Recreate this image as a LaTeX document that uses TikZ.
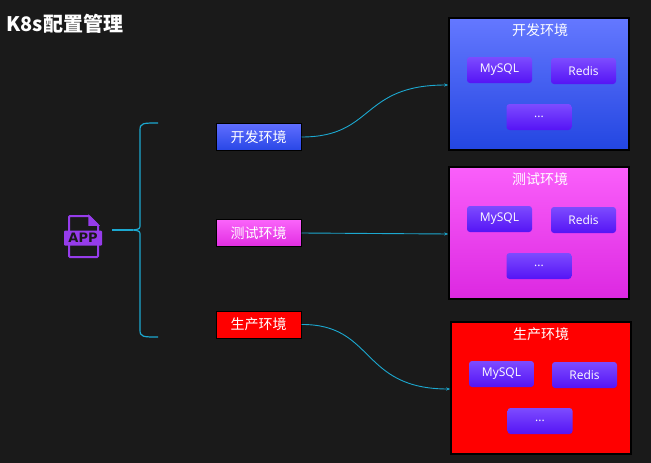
\documentclass[tikz,border=0pt]{standalone}
\usepackage{fontspec}
\setmainfont{Noto Sans CJK SC}
\newfontfamily\latinf{Open Sans}
\usetikzlibrary{arrows.meta}
\definecolor{bg}{HTML}{1A1A1A}
\definecolor{cy}{HTML}{1CA8D0}
\definecolor{pur}{RGB}{150,60,235}
\begin{document}
\begin{tikzpicture}[x=1pt,y=-1pt,
 env/.style={draw=black,line width=1pt,minimum width=85pt,minimum height=27pt,text=white,font=\fontsize{14}{14}\selectfont,inner sep=0pt},
 big/.style={draw=black,line width=1.5pt,minimum width=180pt,minimum height=132pt},
 sm/.style={rounded corners=3pt,top color={rgb,255:red,125;green,75;blue,255},bottom color={rgb,255:red,85;green,20;blue,245},minimum width=65pt,minimum height=26pt,text=white,font=\latinf\fontsize{12}{12}\selectfont,inner sep=0pt},
 btitle/.style={text=white,font=\fontsize{14}{14}\selectfont},
 conn/.style={cy,line width=0.9pt,-{Stealth[length=4pt]}}]
\fill[bg] (0,0) rectangle (651,463);
\useasboundingbox (0,0) rectangle (651,463);
\node[anchor=west,text=white,font=\bfseries\fontsize{20}{20}\selectfont] (title) at (3,24) {K8s配置管理};
\node[big,top color={rgb,255:red,100;green,120;blue,255},bottom color={rgb,255:red,35;green,70;blue,225}] (B1) at (539,84) {};
\node[big,top color={rgb,255:red,250;green,95;blue,250},bottom color={rgb,255:red,220;green,40;blue,225}] (B2) at (539,233) {};
\node[big,fill=red] (B3) at (541,388) {};
\node[btitle] (t1) at (540,30) {开发环境};
\node[btitle] (t2) at (540,179) {测试环境};
\node[btitle] (t3) at (541,334) {生产环境};
\node[sm] (m1) at (499.5,70) {MySQL};
\node[sm] (r1) at (583.5,71) {Redis};
\node[sm] (d1) at (539,117) {...};
\node[sm] (m2) at (499.5,219) {MySQL};
\node[sm] (r2) at (583.5,220) {Redis};
\node[sm] (d2) at (539,266) {...};
\node[sm] (m3) at (501.5,374) {MySQL};
\node[sm] (r3) at (584.5,375) {Redis};
\node[sm] (d3) at (540,421) {...};
\node[env,top color={rgb,255:red,95;green,110;blue,255},bottom color={rgb,255:red,40;green,70;blue,230}] (e1) at (258.5,137) {开发环境};
\node[env,top color={rgb,255:red,250;green,100;blue,250},bottom color={rgb,255:red,225;green,45;blue,225}] (e2) at (258.5,233) {测试环境};
\node[env,fill=red] (e3) at (258.5,324.5) {生产环境};
\draw[conn] (e1.east) .. controls (375,137) and (360,85) .. (B1.west|-0,85);
\draw[conn] (e2.east) -- (B2.west|-0,234);
\draw[conn] (e3.east) .. controls (375,324) and (360,389) .. (B3.west|-0,389);
\coordinate (tip) at (133,230);
\draw[cy,line width=1.2pt] (158,123) .. controls (143,123) and (140,123) .. (140,130) -- (140,224) .. controls (140,229) .. (tip) .. controls (140,231) .. (140,236) -- (140,330) .. controls (140,337) and (143,337) .. (158,337);
\draw[pur,line width=2pt,rounded corners=1pt] (69,216) -- (89,216) -- (98,225) -- (98,257) -- (69,257) -- cycle;
\draw[pur,line width=1.5pt,fill=pur] (89,216) -- (89,225) -- (98,225) -- cycle;
\node[fill=pur,rounded corners=1pt,minimum width=38pt,minimum height=15pt,inner sep=0pt,font=\fontspec{DejaVu Sans}\bfseries\fontsize{13}{13}\selectfont,text=bg] (app) at (83,238) {APP};
\draw[cy,line width=1.2pt] (112,230) -- (tip);
\end{tikzpicture}
\end{document}
